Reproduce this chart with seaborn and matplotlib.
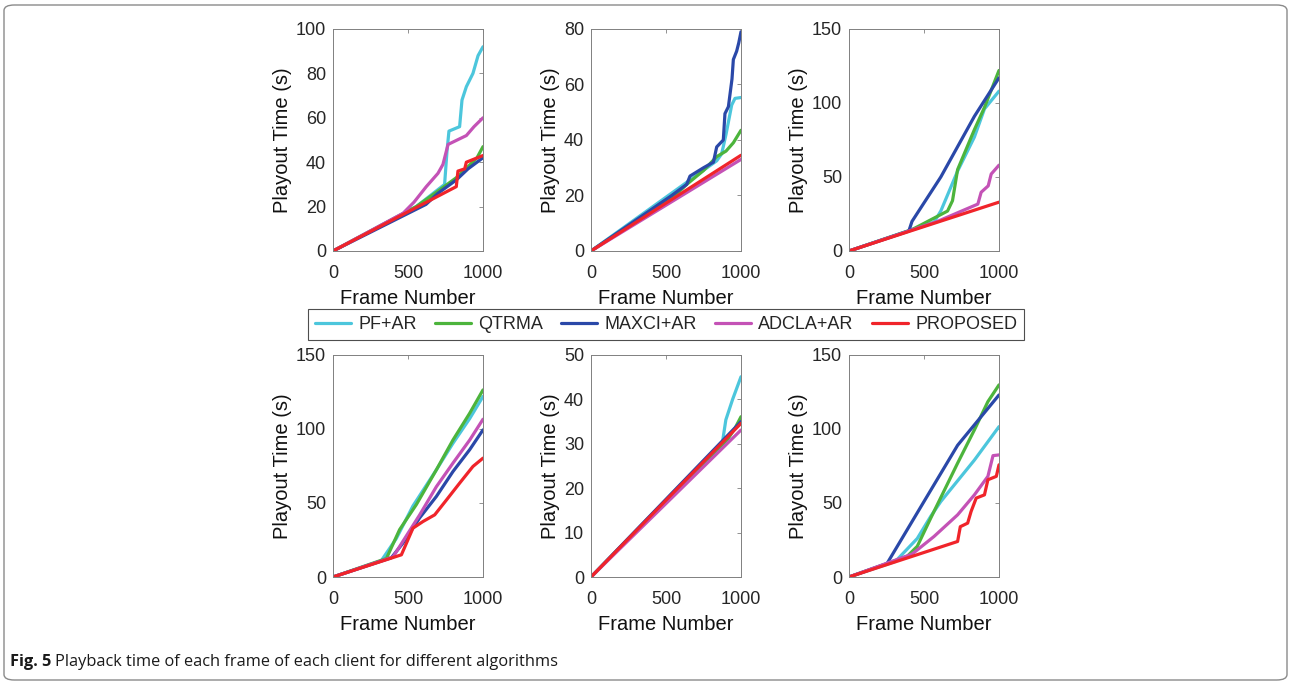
import pandas as pd
import matplotlib.pyplot as plt
import seaborn as sns
from matplotlib.lines import Line2D
from matplotlib.patches import FancyBboxPatch

# series order and colours
algos = ["PF+AR", "QTRMA", "MAXCI+AR", "ADCLA+AR", "PROPOSED"]
colors = ["#4cc6dc", "#4cb43c", "#2a48a8", "#c452b6", "#f0242a"]

# (frame, playout time) knots
a_pf = [(0, 0), (555, 20), (744, 30), (760, 45), (773, 54), (844, 56), (860, 68), (889, 74), (933, 80), (967, 88), (1000, 92)]
a_qtrma = [(0, 0), (555, 20), (700, 27), (822, 33), (900, 38), (960, 42), (1000, 47)]
a_maxci = [(0, 0), (620, 21), (700, 26), (822, 32), (900, 37), (1000, 42)]
a_adcla = [(0, 0), (467, 17), (540, 22), (622, 29), (700, 35), (733, 39), (767, 48), (889, 52), (940, 56), (1000, 60)]
a_prop = [(0, 0), (822, 29), (833, 36), (878, 37), (889, 40), (1000, 43)]

b_pf = [(0, 0), (838, 32.5), (871, 35), (900, 42), (938, 52.6), (960, 55), (1000, 55.3)]
b_qtrma = [(0, 0), (560, 20), (638, 24), (750, 29), (838, 34), (900, 36), (949, 39), (1000, 43.5)]
b_maxci = [(0, 0), (538, 20), (638, 24), (660, 27), (750, 30), (816, 32), (838, 37.5), (882, 40), (893, 49.5),
           (916, 52), (940, 62), (949, 69), (971, 72), (985, 75), (1000, 79)]
b_adcla = [(0, 0), (1000, 33)]
b_prop = [(0, 0), (1000, 34.5)]

c_pf = [(0, 0), (567, 19.5), (612, 27), (724, 54), (836, 77), (903, 96), (1000, 108)]
c_qtrma = [(0, 0), (421, 14.5), (657, 27), (690, 34), (724, 55), (836, 82), (903, 97), (1000, 122)]
c_maxci = [(0, 0), (399, 13.5), (420, 20), (612, 50), (836, 91), (1000, 117)]
c_adcla = [(0, 0), (590, 20), (859, 31.7), (881, 39.7), (928, 44), (948, 52), (1000, 58)]
c_prop = [(0, 0), (1000, 33)]

d_pf = [(0, 0), (322, 11), (422, 26), (533, 48), (689, 72.4), (800, 90.4), (911, 107), (1000, 122)]
d_qtrma = [(0, 0), (356, 12.5), (444, 32), (556, 49), (689, 72.4), (800, 92.6), (911, 110.6), (1000, 126.4)]
d_maxci = [(0, 0), (389, 13), (467, 23), (578, 40), (689, 54.4), (800, 71.3), (911, 86), (1000, 99.4)]
d_adcla = [(0, 0), (400, 13.5), (478, 26), (578, 42), (689, 61), (800, 77), (911, 92.5), (1000, 106.6)]
d_prop = [(0, 0), (456, 15), (533, 33), (600, 37.5), (678, 42), (756, 52), (844, 63.4), (933, 74.7), (1000, 80.3)]

e_pf = [(0, 0), (877, 30.5), (899, 35.4), (944, 40), (1000, 45.1)]
e_qtrma = [(0, 0), (911, 31), (960, 33.5), (1000, 36.1)]
e_maxci = [(0, 0), (1000, 35)]
e_adcla = [(0, 0), (1000, 33.1)]
e_prop = [(0, 0), (1000, 34.6)]

f_pf = [(0, 0), (309, 10.5), (455, 26), (545, 41), (612, 51), (724, 65), (836, 79), (1000, 101.6)]
f_qtrma = [(0, 0), (388, 14), (455, 20.7), (545, 39.8), (724, 76.9), (836, 99.4), (926, 118.5), (1000, 129.8)]
f_maxci = [(0, 0), (253, 9), (500, 51), (724, 89), (1000, 123)]
f_adcla = [(0, 0), (421, 15.5), (567, 27.4), (724, 42), (836, 55.5), (926, 68), (960, 82), (1000, 82.5)]
f_prop = [(0, 0), (724, 24), (742, 34), (791, 36.4), (814, 44.3), (848, 53.3), (903, 55.5), (926, 65.7), (982, 68), (1000, 75.8)]

panels = [
    ([a_pf, a_qtrma, a_maxci, a_adcla, a_prop], 100, [0, 20, 40, 60, 80, 100]),
    ([b_pf, b_qtrma, b_maxci, b_adcla, b_prop], 80, [0, 20, 40, 60, 80]),
    ([c_pf, c_qtrma, c_maxci, c_adcla, c_prop], 150, [0, 50, 100, 150]),
    ([d_pf, d_qtrma, d_maxci, d_adcla, d_prop], 150, [0, 50, 100, 150]),
    ([e_pf, e_qtrma, e_maxci, e_adcla, e_prop], 50, [0, 10, 20, 30, 40, 50]),
    ([f_pf, f_qtrma, f_maxci, f_adcla, f_prop], 150, [0, 50, 100, 150]),
]

sns.set_theme(style="white")
plt.rcParams["font.family"] = ["Liberation Sans", "DejaVu Sans"]

W, H = 1291, 685
fig = plt.figure(figsize=(W / 100, H / 100), dpi=100)

# rounded outer frame
fig.patches.append(FancyBboxPatch((4 / W, 5 / H), 1283 / W, 675 / H,
                                  boxstyle="round,pad=0,rounding_size=0.008",
                                  transform=fig.transFigure, fill=False,
                                  edgecolor="#8a8a8a", linewidth=1.0))

lefts = [333, 591, 849]
tops = [29, 355]
aw, ah = 150, 222

palette = dict(zip(algos, colors))
for i, (series, ymax, yticks) in enumerate(panels):
    r, c = divmod(i, 3)
    ax = fig.add_axes([lefts[c] / W, 1 - (tops[r] + ah) / H, aw / W, ah / H])
    rows = []
    for name, pts in zip(algos, series):
        for fr, t in pts:
            rows.append({"frame": fr, "time": t, "algo": name})
    df = pd.DataFrame(rows)
    sns.lineplot(data=df, x="frame", y="time", hue="algo", hue_order=algos,
                 palette=palette, estimator=None, sort=False, linewidth=2.3,
                 legend=False, ax=ax)
    ax.set_xlim(0, 1000)
    ax.set_ylim(0, ymax)
    ax.set_xticks([0, 500, 1000])
    ax.set_yticks(yticks)
    ax.tick_params(direction="in", length=3, width=0.6, top=True, right=True,
                   labelsize=13, colors="#808080", labelcolor="#262626")
    ax.tick_params(axis="x", pad=10)
    ax.tick_params(axis="y", pad=5)
    for s in ax.spines.values():
        s.set_edgecolor("#808080")
        s.set_linewidth(0.7)
    ax.set_xlabel("Frame Number", fontsize=14.5, color="#111111", labelpad=5)
    ax.set_ylabel("Playout Time (s)", fontsize=14.5, color="#111111", labelpad=3)

handles = [Line2D([], [], color=col, lw=2.3) for col in colors]
leg = fig.legend(handles, algos, loc="center", bbox_to_anchor=(666 / W, 1 - 324.5 / H),
                 ncol=5, frameon=True, fancybox=False, fontsize=13,
                 handlelength=2.0, handletextpad=0.4, columnspacing=1.0,
                 borderpad=0.4)
leg.get_frame().set_edgecolor("#222222")
leg.get_frame().set_linewidth(0.8)

# caption with bold "Fig. 5"
cap_y = 1 - 662 / H
t1 = fig.text(10 / W, cap_y, "Fig. 5", fontsize=11.8, fontweight="bold",
              family=["Open Sans", "DejaVu Sans"], va="center", color="#1a1a1a")
fig.canvas.draw()
bb = t1.get_window_extent(renderer=fig.canvas.get_renderer())
fig.text((bb.x1 + 4) / W, cap_y, "Playback time of each frame of each client for different algorithms",
         fontsize=11.8, family=["Open Sans", "DejaVu Sans"], va="center", color="#1a1a1a")

fig.savefig("out.png", dpi=100)
